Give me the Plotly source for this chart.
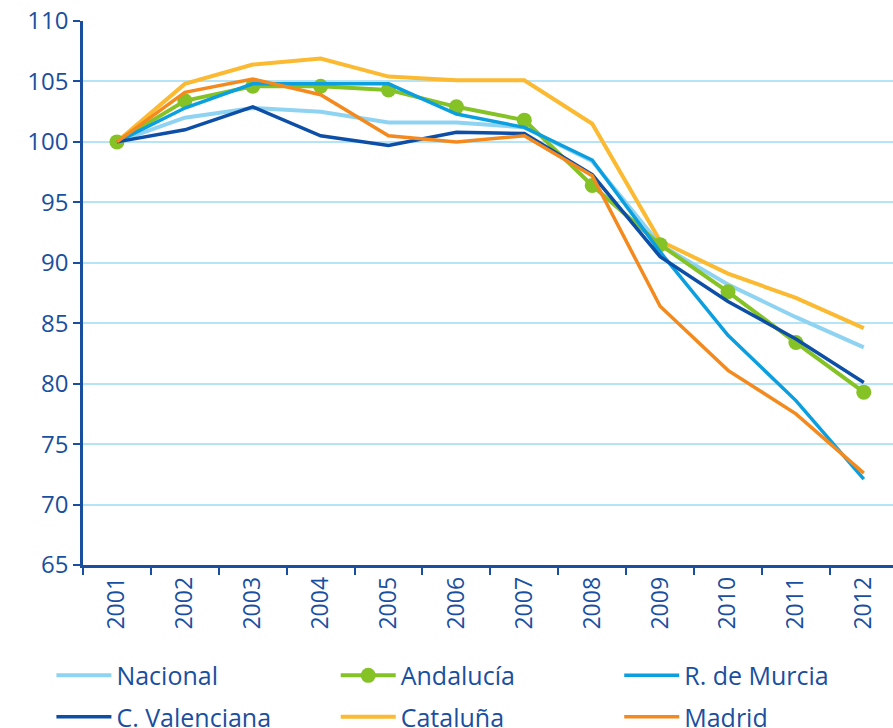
import plotly.graph_objects as go

years = ["2001", "2002", "2003", "2004", "2005", "2006", "2007", "2008", "2009", "2010", "2011", "2012"]

nacional = [100, 102.0, 102.8, 102.5, 101.6, 101.6, 101.2, 98.4, 91.5, 88.2, 85.5, 83.0]
andalucia = [100, 103.4, 104.6, 104.6, 104.3, 102.9, 101.8, 96.4, 91.5, 87.6, 83.4, 79.3]
murcia = [100, 102.8, 104.8, 104.8, 104.8, 102.3, 101.2, 98.5, 90.9, 84.0, 78.6, 72.1]
valenciana = [100, 101.0, 102.9, 100.5, 99.7, 100.8, 100.7, 97.3, 90.5, 86.8, 83.7, 80.1]
cataluna = [100, 104.8, 106.4, 106.9, 105.4, 105.1, 105.1, 101.5, 91.8, 89.1, 87.1, 84.6]
madrid = [100, 104.1, 105.2, 103.9, 100.5, 100.0, 100.5, 97.2, 86.4, 81.1, 77.5, 72.6]

blue_txt = "#1a4fa0"
font = "Open Sans"

fig = go.Figure()

# draw order: back to front; legend = column, legendrank = row
fig.add_trace(go.Scatter(x=years, y=nacional, name="Nacional", mode="lines",
                         line=dict(color="#8fd3f2", width=4),
                         legend="legend", legendgroup="a", legendrank=1))
fig.add_trace(go.Scatter(x=years, y=cataluna, name="Cataluña", mode="lines",
                         line=dict(color="#fbba32", width=4),
                         legend="legend2", legendgroup="d", legendrank=2))
fig.add_trace(go.Scatter(x=years, y=andalucia, name="Andalucía", mode="lines+markers",
                         line=dict(color="#85c226", width=4), marker=dict(size=15, color="#85c226"),
                         legend="legend2", legendgroup="c", legendrank=1))
fig.add_trace(go.Scatter(x=years, y=murcia, name="R. de Murcia", mode="lines",
                         line=dict(color="#0b9fe0", width=3.5),
                         legend="legend3", legendgroup="e", legendrank=1))
fig.add_trace(go.Scatter(x=years, y=valenciana, name="C. Valenciana", mode="lines",
                         line=dict(color="#0d4ea6", width=3.5),
                         legend="legend", legendgroup="b", legendrank=2))
fig.add_trace(go.Scatter(x=years, y=madrid, name="Madrid", mode="lines",
                         line=dict(color="#f48a1e", width=3.5),
                         legend="legend3", legendgroup="f", legendrank=2))

leg = dict(orientation="v", font=dict(family=font, size=25, color=blue_txt),
           xanchor="left", yanchor="middle", bgcolor="rgba(0,0,0,0)",
           traceorder="grouped", tracegroupgap=6, itemwidth=55)

fig.update_layout(
    width=893, height=728,
    margin=dict(l=83, r=0, t=21, b=163, autoexpand=False),
    plot_bgcolor="white", paper_bgcolor="white",
    font=dict(family=font, color=blue_txt),
    legend=dict(leg, x=-0.039, y=-0.241),
    legend2=dict(leg, x=0.312, y=-0.241),
    legend3=dict(leg, x=0.662, y=-0.241),
    xaxis=dict(type="category", range=[-0.5, 11.43], tickson="boundaries",
               ticks="outside", ticklen=7, tickwidth=2, tickcolor=blue_txt,
               showline=True, linecolor=blue_txt, linewidth=2.5,
               showgrid=False, tickangle=-90, automargin=False,
               tickfont=dict(family=font, size=23, color=blue_txt)),
    yaxis=dict(range=[65, 110], dtick=5, ticks="outside", ticklen=7, tickwidth=2,
               tickcolor=blue_txt, showline=True, linecolor=blue_txt, linewidth=2.5,
               gridcolor="#b5e4f6", gridwidth=2, zeroline=False, automargin=False,
               tickfont=dict(family=font, size=24, color=blue_txt)),
)

# drop the default 8px body margin so the figure fills the window
fig.write_html("out.html", config={"displayModeBar": False},
               post_script="document.body.style.margin='0';document.body.style.overflow='hidden';")
